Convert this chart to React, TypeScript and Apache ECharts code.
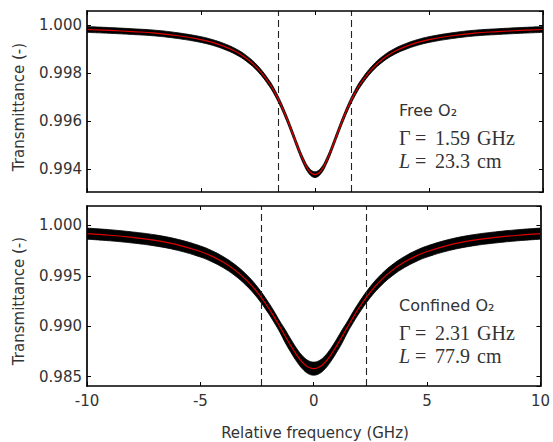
import React, { useEffect, useRef } from 'react';
import * as echarts from 'echarts';

// Relative frequency grid (GHz)
const freq = [-10, -9, -8, -7, -6, -5, -4.5, -4, -3.5, -3, -2.5, -2, -1.75, -1.5, -1.25, -1, -0.75, -0.5, -0.25, 0,
  0.25, 0.5, 0.75, 1, 1.25, 1.5, 1.75, 2, 2.5, 3, 3.5, 4, 4.5, 5, 6, 7, 8, 9, 10];

const freeFit = [0.99982, 0.99978, 0.99973, 0.99967, 0.99956, 0.99940, 0.99928, 0.99912, 0.99891, 0.99861, 0.99818, 0.99757, 0.99717, 0.99669, 0.99614, 0.99553, 0.99490, 0.99433, 0.99392, 0.99377,
  0.99392, 0.99433, 0.99490, 0.99553, 0.99614, 0.99669, 0.99717, 0.99757, 0.99818, 0.99861, 0.99891, 0.99912, 0.99928, 0.99940, 0.99956, 0.99967, 0.99973, 0.99978, 0.99982];
const freeUpper = [0.99994, 0.99990, 0.99985, 0.99979, 0.99968, 0.99952, 0.99940, 0.99924, 0.99903, 0.99873, 0.99830, 0.99769, 0.99729, 0.99681, 0.99626, 0.99565, 0.99502, 0.99445, 0.99404, 0.99389,
  0.99404, 0.99445, 0.99502, 0.99565, 0.99626, 0.99681, 0.99729, 0.99769, 0.99830, 0.99873, 0.99903, 0.99924, 0.99940, 0.99952, 0.99968, 0.99979, 0.99985, 0.99990, 0.99994];
const freeLower = [0.99970, 0.99966, 0.99961, 0.99955, 0.99944, 0.99928, 0.99916, 0.99900, 0.99879, 0.99849, 0.99806, 0.99745, 0.99705, 0.99657, 0.99602, 0.99541, 0.99478, 0.99421, 0.99380, 0.99365,
  0.99380, 0.99421, 0.99478, 0.99541, 0.99602, 0.99657, 0.99705, 0.99745, 0.99806, 0.99849, 0.99879, 0.99900, 0.99916, 0.99928, 0.99944, 0.99955, 0.99961, 0.99966, 0.99970];

// Confined O2
const confFit = [0.99919, 0.99903, 0.99881, 0.99852, 0.99808, 0.99742, 0.99696, 0.99637, 0.99562, 0.99465, 0.99341, 0.99184, 0.99094, 0.98998, 0.98899, 0.98803, 0.98715, 0.98643, 0.98596, 0.98580,
  0.98596, 0.98643, 0.98715, 0.98803, 0.98899, 0.98998, 0.99094, 0.99184, 0.99341, 0.99465, 0.99562, 0.99637, 0.99696, 0.99742, 0.99808, 0.99852, 0.99881, 0.99903, 0.99919];
const confUpper = [0.99974, 0.99958, 0.99936, 0.99907, 0.99863, 0.99797, 0.99751, 0.99692, 0.99617, 0.99520, 0.99396, 0.99239, 0.99149, 0.99053, 0.98964, 0.98868, 0.98780, 0.98708, 0.98661, 0.98645,
  0.98661, 0.98708, 0.98780, 0.98868, 0.98964, 0.99053, 0.99149, 0.99239, 0.99396, 0.99520, 0.99617, 0.99692, 0.99751, 0.99797, 0.99863, 0.99907, 0.99936, 0.99958, 0.99974];
const confLower = [0.99864, 0.99848, 0.99826, 0.99797, 0.99753, 0.99687, 0.99641, 0.99582, 0.99507, 0.99410, 0.99286, 0.99129, 0.99039, 0.98943, 0.98834, 0.98738, 0.98650, 0.98578, 0.98531, 0.98515,
  0.98531, 0.98578, 0.98650, 0.98738, 0.98834, 0.98943, 0.99039, 0.99129, 0.99286, 0.99410, 0.99507, 0.99582, 0.99641, 0.99687, 0.99753, 0.99797, 0.99826, 0.99848, 0.99864];

const freeGamma = 1.59;
const confGamma = 2.31;
const freeTexts = ['Free O\u2082', '\u0393', '=', '1.59', 'GHz', 'L', '=', '23.3', 'cm'];
const confTexts = ['Confined O\u2082', '\u0393', '=', '2.31', 'GHz', 'L', '=', '77.9', 'cm'];
const yTitle = 'Transmittance (-)';
const xTitle = 'Relative frequency (GHz)';

const zip = (ys: number[]) => freq.map((x, i) => [x, ys[i]]);

const SANS = 'DejaVu Sans';
const SERIF = 'Liberation Serif';
const TXT = '#333';

function xAx(grid: number, pos: string, labels: boolean) {
  return {
    type: 'value', gridIndex: grid, position: pos, min: -10, max: 10, interval: 5, z: 10,
    axisLine: { show: true, onZero: false, lineStyle: { color: '#000', width: 1.7 } },
    axisTick: { show: true, inside: true, length: 4, lineStyle: { color: '#000', width: 1 } },
    axisLabel: { show: labels, margin: 7, color: TXT, fontSize: 15, fontFamily: SANS },
    splitLine: { show: false },
  };
}

function yAx(grid: number, pos: string, min: number, max: number, step: number, labels: boolean) {
  return {
    type: 'value', gridIndex: grid, position: pos, min, max, splitNumber: 4,
    minInterval: step, maxInterval: step, z: 10,
    axisLine: { show: true, onZero: false, lineStyle: { color: '#000', width: 1.7 } },
    axisTick: { show: true, inside: true, length: 4, lineStyle: { color: '#000', width: 1 } },
    axisLabel: {
      show: labels, showMinLabel: false, showMaxLabel: false, margin: 5,
      color: TXT, fontSize: 15, fontFamily: SANS,
      formatter: (v: number) => v.toFixed(3),
    },
    splitLine: { show: false },
  };
}

function panelSeries(xi: number, upper: number[], lower: number[], fit: number[], gamma: number) {
  return [
    {
      type: 'line', xAxisIndex: xi, yAxisIndex: xi, data: zip(upper), smooth: 0.4, symbol: 'none', silent: true, z: 2,
      lineStyle: { color: '#000', width: 0.8 },
      areaStyle: { color: '#000', opacity: 1, origin: 'start' },
    },
    {
      type: 'line', xAxisIndex: xi, yAxisIndex: xi, data: zip(lower), smooth: 0.4, symbol: 'none', silent: true, z: 3,
      lineStyle: { color: '#000', width: 0.8 },
      areaStyle: { color: '#fff', opacity: 1, origin: 'start' },
    },
    {
      type: 'line', xAxisIndex: xi, yAxisIndex: xi, data: zip(fit), smooth: 0.4, symbol: 'none', silent: true, z: 5,
      lineStyle: { color: '#e00000', width: 1.2 },
      markLine: {
        silent: true, symbol: ['none', 'none'], label: { show: false },
        lineStyle: { type: [7, 4], color: '#222', width: 1.1 },
        data: [{ xAxis: -gamma }, { xAxis: gamma }],
      },
    },
  ];
}

function annot(texts: string[], dy: number) {
  const serif = (text: string, x: number, y: number, italic = false) => ({
    type: 'text', x, y: y + dy, z: 20,
    style: { text, fontSize: 20, fontFamily: SERIF, fontStyle: italic ? 'italic' : 'normal', fill: TXT, align: 'left', verticalAlign: 'middle' },
  });
  return [
    { type: 'text', x: 399, y: 110.2 + dy, z: 20, style: { text: texts[0], fontSize: 16, fontFamily: SANS, fill: TXT, align: 'left', verticalAlign: 'middle' } },
    serif(texts[1], 399, 137.5),
    serif(texts[2], 415, 137.5),
    serif(texts[3], 435, 137.5),
    serif(texts[4], 477, 137.5),
    serif(texts[5], 399, 160.8, true),
    serif(texts[6], 415, 160.8),
    serif(texts[7], 435, 160.8),
    serif(texts[8], 477, 160.8),
  ];
}

export default function App() {
  const ref = useRef<HTMLDivElement>(null);
  useEffect(() => {
    if (!ref.current) return;
    const chart = echarts.init(ref.current, null, { renderer: 'svg' });
    chart.setOption({
      animation: false,
      backgroundColor: '#fff',
      grid: [
        { left: 87, top: 11, width: 456, height: 181 },
        { left: 87, top: 206, width: 456, height: 180 },
      ],
      xAxis: [xAx(0, 'bottom', false), xAx(0, 'top', false), xAx(1, 'bottom', true), xAx(1, 'top', false)],
      yAxis: [
        yAx(0, 'left', 0.99305, 1.00059, 0.002, true), yAx(0, 'right', 0.99305, 1.00059, 0.002, false),
        yAx(1, 'left', 0.98408, 1.00193, 0.005, true), yAx(1, 'right', 0.98408, 1.00193, 0.005, false),
      ],
      series: [
        ...panelSeries(0, freeUpper, freeLower, freeFit, freeGamma),
        ...panelSeries(2, confUpper, confLower, confFit, confGamma),
      ],
      graphic: [
        { type: 'text', x: 19, y: 107, rotation: Math.PI / 2, z: 20, style: { text: yTitle, fontSize: 15, fontFamily: SANS, fill: TXT, align: 'center', verticalAlign: 'middle' } },
        { type: 'text', x: 19, y: 301, rotation: Math.PI / 2, z: 20, style: { text: yTitle, fontSize: 15, fontFamily: SANS, fill: TXT, align: 'center', verticalAlign: 'middle' } },
        { type: 'text', x: 315, y: 433, z: 20, style: { text: xTitle, fontSize: 15, fontFamily: SANS, fill: TXT, align: 'center', verticalAlign: 'middle' } },
        ...annot(freeTexts, 0),
        ...annot(confTexts, 195),
      ],
    });
    return () => chart.dispose();
  }, []);
  return <div ref={ref} style={{ position: 'fixed', left: 0, top: 0, width: 553, height: 442 }} />;
}
